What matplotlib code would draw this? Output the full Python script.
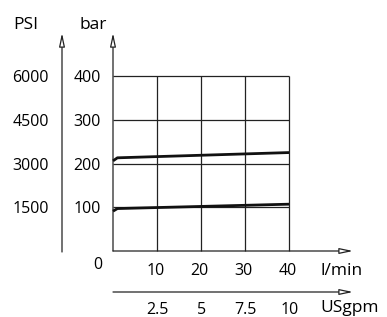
import matplotlib
matplotlib.use("Agg")
import matplotlib.pyplot as plt
from matplotlib.patches import FancyArrowPatch

plt.rcParams['font.family'] = ['Open Sans', 'DejaVu Sans']

# data
flow_lmin = [0, 1, 40]
p_upper_bar = [206, 213, 225]
p_lower_bar = [91, 97, 107]
x_ticks_lmin = [10, 20, 30, 40]
x_ticks_gpm = [2.5, 5, 7.5, 10]
y_ticks_bar = [100, 200, 300, 400]
y_ticks_psi = [1500, 3000, 4500, 6000]

W, H = 387, 317
fig = plt.figure(figsize=(W / 100, H / 100), dpi=100)

# grid box in pixels: x 113..289, y 76..251
L, R, T, B = 113, 289, 76, 251
ax = fig.add_axes([L / W, 1 - B / H, (R - L) / W, (B - T) / H])
ax.set_xlim(0, 40)
ax.set_ylim(0, 400)
for s in ax.spines.values():
    s.set_visible(False)
ax.set_xticks([])
ax.set_yticks([])
ax.patch.set_alpha(0)

lc = '#222222'
for x in x_ticks_lmin:
    ax.plot([x, x], [0, 400], color=lc, lw=0.9, solid_capstyle='butt', clip_on=False)
for y in y_ticks_bar:
    ax.plot([0, 40], [y, y], color=lc, lw=0.9, solid_capstyle='butt', clip_on=False)

ax.plot(flow_lmin, p_upper_bar, color='#111111', lw=2.0, solid_capstyle='butt', clip_on=False)
ax.plot(flow_lmin, p_lower_bar, color='#111111', lw=2.0, solid_capstyle='butt', clip_on=False)

fsz = 11.5
px_x = 40 / (R - L)          # data units per pixel (x)
px_y = 400 / (B - T)         # data units per pixel (y)

def arrow(x0, y0, x1, y1, tr):
    a = FancyArrowPatch((x0, y0), (x1, y1), transform=tr,
                        arrowstyle='-|>,head_length=8,head_width=1.7',
                        mutation_scale=1, lw=0.9, ec=lc, fc='white',
                        shrinkA=0, shrinkB=0, clip_on=False)
    ax.add_patch(a)

def py(p):  # pixel row -> data y
    return (B - p) * px_y

def px(p):  # pixel column -> data x
    return (p - L) * px_x

# bar axis (vertical) with arrow
y_top = py(33)
arrow(0, 0, 0, y_top, ax.transData)
# flow axis (horizontal) with arrow
x_end = px(353)
arrow(0, 0, x_end, 0, ax.transData)
# PSI axis
x_psi = px(62)
arrow(x_psi, py(252), x_psi, y_top, ax.transData)
# USgpm axis
y_gpm = py(292)
arrow(0, y_gpm, x_end, y_gpm, ax.transData)

# labels
for v in y_ticks_bar:
    ax.text(px(101), v - 6 * px_y, str(v), ha='right', va='baseline', fontsize=fsz, clip_on=False)
for v in y_ticks_psi:
    ax.text(px(30.5), v / 15 - 6 * px_y, str(v), ha='center', va='baseline', fontsize=fsz, clip_on=False)
ax.text(px(98), py(269), '0', ha='center', va='baseline', fontsize=fsz)
ax.text(px(26), py(29), 'PSI', ha='center', va='baseline', fontsize=fsz + 1)
ax.text(px(93), py(29), 'bar', ha='center', va='baseline', fontsize=fsz + 1)

for v in x_ticks_lmin:
    ax.text(v - 0.3, py(275), str(v), ha='center', va='baseline', fontsize=fsz)
ax.text(px(320), py(275), 'l/min', ha='left', va='baseline', fontsize=fsz + 1)
for v in x_ticks_gpm:
    ax.text(v * 4 + 0.2, py(314), f'{v:g}', ha='center', va='baseline', fontsize=fsz)
ax.text(px(320), py(312), 'USgpm', ha='left', va='baseline', fontsize=fsz + 1)

fig.savefig('out.png', dpi=100)
